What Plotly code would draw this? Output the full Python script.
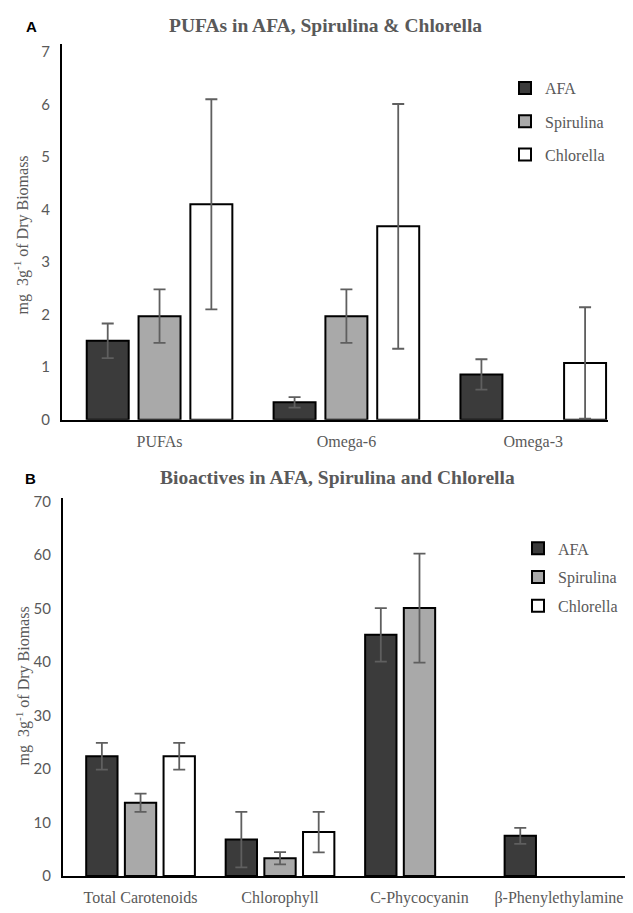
import plotly.graph_objects as go

# ---------------- data ----------------
series = ["AFA", "Spirulina", "Chlorella"]

cats_a = ["PUFAs", "Omega-6", "Omega-3"]
afa_a = [1.50, 0.33, 0.86]
afa_a_err = [0.33, 0.10, 0.29]
spi_a = [1.97, 1.97, None]
spi_a_err = [0.51, 0.51, None]
chl_a = [4.10, 3.68, 1.08]
chl_a_err = [2.00, 2.33, 1.06]

cats_b = ["Total Carotenoids", "Chlorophyll", "C-Phycocyanin", "β-Phenylethylamine"]
afa_b = [22.4, 6.8, 45.1, 7.5]
afa_b_err = [2.5, 5.2, 5.0, 1.5]
spi_b = [13.7, 3.3, 50.1, None]
spi_b_err = [1.7, 1.15, 10.2, None]
chl_b = [22.4, 8.2, None, None]
chl_b_err = [2.5, 3.8, None, None]

yticks_a = [0, 1, 2, 3, 4, 5, 6, 7]
yticks_b = [0, 10, 20, 30, 40, 50, 60, 70]

title_a = "PUFAs in AFA, Spirulina & Chlorella"
title_b = "Bioactives in AFA, Spirulina and Chlorella"
ytitle = "mg  3g<sup>-1</sup> of Dry Biomass"

# ---------------- styles ----------------
OFF = 8  # default page body margin
W, H = 633 - OFF, 913 - OFF
fills = {"AFA": "#3b3b3b", "Spirulina": "#a9a9a9", "Chlorella": "#ffffff"}
gray = "#595959"
serif = "Liberation Serif, Times New Roman, serif"
sans_ticks = "Lato, Carlito, Calibri, sans-serif"


def px_x(p):
    return (p - OFF) / W


def px_y(p):
    return 1 - (p - OFF) / H


fig = go.Figure()

data_a = {"AFA": (afa_a, afa_a_err), "Spirulina": (spi_a, spi_a_err), "Chlorella": (chl_a, chl_a_err)}
data_b = {"AFA": (afa_b, afa_b_err), "Spirulina": (spi_b, spi_b_err), "Chlorella": (chl_b, chl_b_err)}

for s in series:
    v, e = data_a[s]
    fig.add_trace(go.Bar(
        x=cats_a, y=v, name=s, xaxis="x", yaxis="y",
        marker=dict(color=fills[s], line=dict(color="#000000", width=2)),
        error_y=dict(type="data", array=e, visible=True, color="#5f5f5f", thickness=1.8, width=6),
        legend="legend", legendgroup="a" + s,
    ))
for s in series:
    v, e = data_b[s]
    fig.add_trace(go.Bar(
        x=cats_b, y=v, name=s, xaxis="x2", yaxis="y2",
        marker=dict(color=fills[s], line=dict(color="#000000", width=2)),
        error_y=dict(type="data", array=e, visible=True, color="#5f5f5f", thickness=1.8, width=6),
        legend="legend2", legendgroup="b" + s,
    ))

xa_common = dict(
    type="category", showline=True, linecolor="#000000", linewidth=2,
    showgrid=False, zeroline=False, ticks="",
    tickfont=dict(family=serif, size=16, color=gray),
    ticklabelstandoff=6,
)
ya_common = dict(
    showline=True, linecolor="#000000", linewidth=2,
    showgrid=False, zeroline=False, ticks="",
    tickfont=dict(family=sans_ticks, size=15, color=gray),
    ticklabelstandoff=7,
)

fig.update_layout(
    width=W, height=H,
    margin=dict(l=0, r=0, t=0, b=0),
    paper_bgcolor="#ffffff", plot_bgcolor="#ffffff",
    barmode="group", bargap=0.168, bargroupgap=0.19,
    xaxis=dict(xa_common, domain=[px_x(62), px_x(608)], range=[-0.522, 2.40],
               categoryarray=cats_a, anchor="y"),
    yaxis=dict(ya_common, domain=[px_y(420), px_y(38.6)], range=[0, 7.15],
               tickvals=yticks_a, anchor="x"),
    xaxis2=dict(xa_common, domain=[px_x(63), px_x(628)], range=[-0.556, 3.495],
                categoryarray=cats_b, anchor="y2"),
    yaxis2=dict(ya_common, domain=[px_y(883.5), px_y(499.3)], range=[0, 70.75],
                tickvals=yticks_b, anchor="x2"),
    legend=dict(x=px_x(505), y=px_y(66), xanchor="left", yanchor="top",
                font=dict(family=serif, size=16, color=gray),
                traceorder="grouped", tracegroupgap=9.5, bgcolor="rgba(0,0,0,0)"),
    legend2=dict(x=px_x(518), y=px_y(533.5), xanchor="left", yanchor="top",
                 font=dict(family=serif, size=16, color=gray),
                 traceorder="grouped", tracegroupgap=5, bgcolor="rgba(0,0,0,0)"),
    showlegend=True,
)

annotations = [
    dict(text="<b>" + title_a + "</b>", x=px_x(325), y=px_y(20), xref="paper", yref="paper",
         showarrow=False, font=dict(family=serif, size=19.5, color=gray), xanchor="center", yanchor="middle"),
    dict(text="<b>" + title_b + "</b>", x=px_x(337), y=px_y(479), xref="paper", yref="paper",
         showarrow=False, font=dict(family=serif, size=19.5, color=gray), xanchor="center", yanchor="middle"),
    dict(text="<b>A</b>", x=px_x(31), y=px_y(21), xref="paper", yref="paper",
         showarrow=False, font=dict(family="Liberation Sans, Arial, sans-serif", size=15, color="#000000"),
         xanchor="center", yanchor="middle"),
    dict(text="<b>B</b>", x=px_x(30), y=px_y(480), xref="paper", yref="paper",
         showarrow=False, font=dict(family="Liberation Sans, Arial, sans-serif", size=15, color="#000000"),
         xanchor="center", yanchor="middle"),
    dict(text=ytitle, x=px_x(22), y=px_y(233), xref="paper", yref="paper", textangle=-90,
         showarrow=False, font=dict(family=serif, size=16, color=gray), xanchor="center", yanchor="middle"),
    dict(text=ytitle, x=px_x(23), y=px_y(691), xref="paper", yref="paper", textangle=-90,
         showarrow=False, font=dict(family=serif, size=16, color=gray), xanchor="center", yanchor="middle"),
]
fig.update_layout(annotations=annotations)

fig.write_html("out.html")
